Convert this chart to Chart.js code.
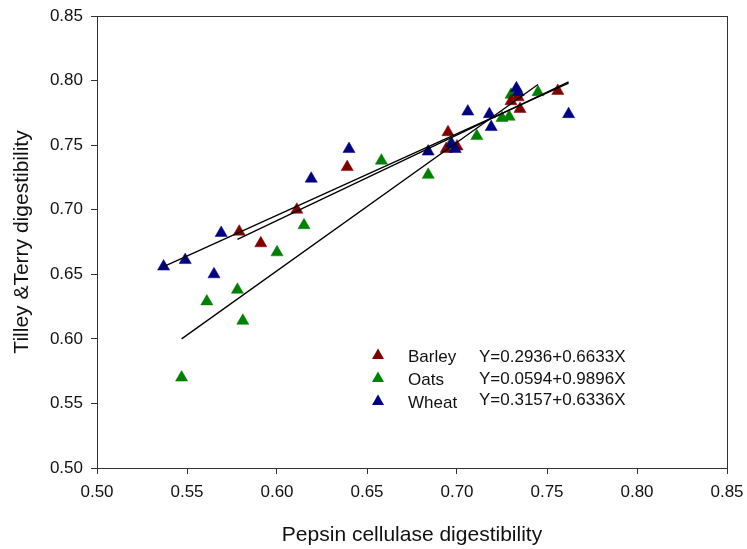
<!DOCTYPE html>
<html>
<head>
<meta charset="utf-8">
<script src="https://cdn.jsdelivr.net/npm/chart.js@4"></script>
<style>
  html, body { margin: 0; padding: 0; background: #fff; }
  #wrap { width: 747px; height: 549px; position: relative; }
</style>
</head>
<body>
<div id="wrap"><canvas id="chart" width="747" height="549"></canvas></div>
<script>
// ======================
// 데이터
// ======================
const xTicks = [0.50, 0.55, 0.60, 0.65, 0.70, 0.75, 0.80, 0.85];
const yTicks = [0.50, 0.55, 0.60, 0.65, 0.70, 0.75, 0.80, 0.85];

const seriesNames = ["Barley", "Oats", "Wheat"];
const seriesColors = ["#800000", "#008000", "#000080"];
const equations = ["Y=0.2936+0.6633X", "Y=0.0594+0.9896X", "Y=0.3157+0.6336X"];

const barleyX = [0.579, 0.591, 0.611, 0.639, 0.695, 0.700, 0.694, 0.730, 0.734, 0.735, 0.756];
const barleyY = [0.683, 0.674, 0.700, 0.733, 0.760, 0.749, 0.747, 0.784, 0.787, 0.778, 0.792];

const oatsX = [0.547, 0.561, 0.578, 0.581, 0.600, 0.615, 0.658, 0.684, 0.696, 0.711, 0.725, 0.729, 0.730, 0.745];
const oatsY = [0.570, 0.629, 0.638, 0.614, 0.667, 0.688, 0.738, 0.727, 0.750, 0.757, 0.771, 0.772, 0.789, 0.791];

const wheatX = [0.537, 0.549, 0.565, 0.569, 0.619, 0.640, 0.684, 0.697, 0.699, 0.706, 0.718, 0.719, 0.733, 0.734, 0.762];
const wheatY = [0.656, 0.661, 0.650, 0.682, 0.724, 0.747, 0.745, 0.751, 0.747, 0.776, 0.774, 0.764, 0.794, 0.791, 0.774];

// regression line end points
const barleyFitX = [0.578, 0.762];
const barleyFitY = [0.677, 0.799];
const oatsFitX = [0.547, 0.745];
const oatsFitY = [0.600, 0.797];
const wheatFitX = [0.537, 0.762];
const wheatFitY = [0.656, 0.798];

// ======================
// 유틸
// ======================
function toPoints(xs, ys) {
  return xs.map((x, i) => ({ x, y: ys[i] }));
}

function pointSet(name, xs, ys, color, order) {
  return {
    label: name,
    data: toPoints(xs, ys),
    showLine: false,
    pointStyle: "triangle",
    pointRadius: 7,
    pointBackgroundColor: color,
    pointBorderColor: color,
    pointBorderWidth: 0.5,
    order
  };
}

function fitSet(name, xs, ys) {
  return {
    label: name,
    data: toPoints(xs, ys),
    showLine: true,
    borderColor: "#000",
    borderWidth: 1.3,
    pointRadius: 0,
    fill: false,
    order: 0
  };
}

const FONT = "'Liberation Sans', Arial, sans-serif";

// 프레임 + 범례 (custom)
const framePlugin = {
  id: "frame",
  afterDraw(chart) {
    const { ctx, chartArea: a } = chart;
    ctx.save();
    ctx.strokeStyle = "#333";
    ctx.lineWidth = 1;
    ctx.strokeRect(a.left + 0.5, a.top + 0.5, a.right - a.left, a.bottom - a.top);

    // legend
    const mx = 378, tx = 408, ex = 479;
    const nameBase = [362, 385, 408];
    const eqBase = [362, 383.5, 405];
    const markMid = [354, 377, 400];
    ctx.font = "17px " + FONT;
    ctx.textBaseline = "alphabetic";
    for (let i = 0; i < 3; i++) {
      const y = markMid[i];
      ctx.fillStyle = seriesColors[i];
      ctx.beginPath();
      ctx.moveTo(mx, y - 5.5);
      ctx.lineTo(mx + 6, y + 5);
      ctx.lineTo(mx - 6, y + 5);
      ctx.closePath();
      ctx.fill();
      ctx.fillStyle = "#111";
      ctx.fillText(seriesNames[i], tx, nameBase[i]);
      ctx.fillText(equations[i], ex, eqBase[i]);
    }
    ctx.restore();
  }
};

// ======================
// 차트
// ======================
const tickFont = { family: FONT, size: 17 };
const titleFont = { family: FONT, size: 21 };

new Chart(document.getElementById("chart"), {
  type: "scatter",
  data: {
    datasets: [
      fitSet("Barley fit", barleyFitX, barleyFitY),
      fitSet("Oats fit", oatsFitX, oatsFitY),
      fitSet("Wheat fit", wheatFitX, wheatFitY),
      pointSet(seriesNames[0], barleyX, barleyY, seriesColors[0], 2),
      pointSet(seriesNames[1], oatsX, oatsY, seriesColors[1], 3),
      pointSet(seriesNames[2], wheatX, wheatY, seriesColors[2], 1)
    ]
  },
  options: {
    responsive: false,
    animation: false,
    layout: { padding: { top: 16, right: 20, left: 0, bottom: 0 } },
    plugins: { legend: { display: false }, tooltip: { enabled: false } },
    scales: {
      x: {
        type: "linear",
        min: 0.50, max: 0.85,
        afterBuildTicks: s => { s.ticks = xTicks.map(v => ({ value: v })); },
        afterFit: s => { s.height = 81; s.paddingRight = 0; s.paddingLeft = 0; },
        ticks: { font: tickFont, color: "#111", padding: 8, maxRotation: 0, callback: v => v.toFixed(2) },
        grid: { drawOnChartArea: false, tickLength: 6, color: "#333" },
        border: { color: "#333" },
        title: { display: true, text: "Pepsin cellulase digestibility", font: titleFont, color: "#111", padding: { top: 0, bottom: 1 } }
      },
      y: {
        type: "linear",
        min: 0.50, max: 0.85,
        afterBuildTicks: s => { s.ticks = yTicks.map(v => ({ value: v })); },
        afterFit: s => { s.width = 97; s.paddingTop = 0; s.paddingBottom = 0; },
        ticks: { font: tickFont, color: "#111", padding: 8, callback: v => v.toFixed(2) },
        grid: { drawOnChartArea: false, tickLength: 6, color: "#333" },
        border: { color: "#333" },
        title: { display: true, text: "Tilley &Terry digestibility", font: titleFont, color: "#111", padding: { top: 10, bottom: 0 } }
      }
    }
  },
  plugins: [framePlugin]
});
</script>
</body>
</html>
